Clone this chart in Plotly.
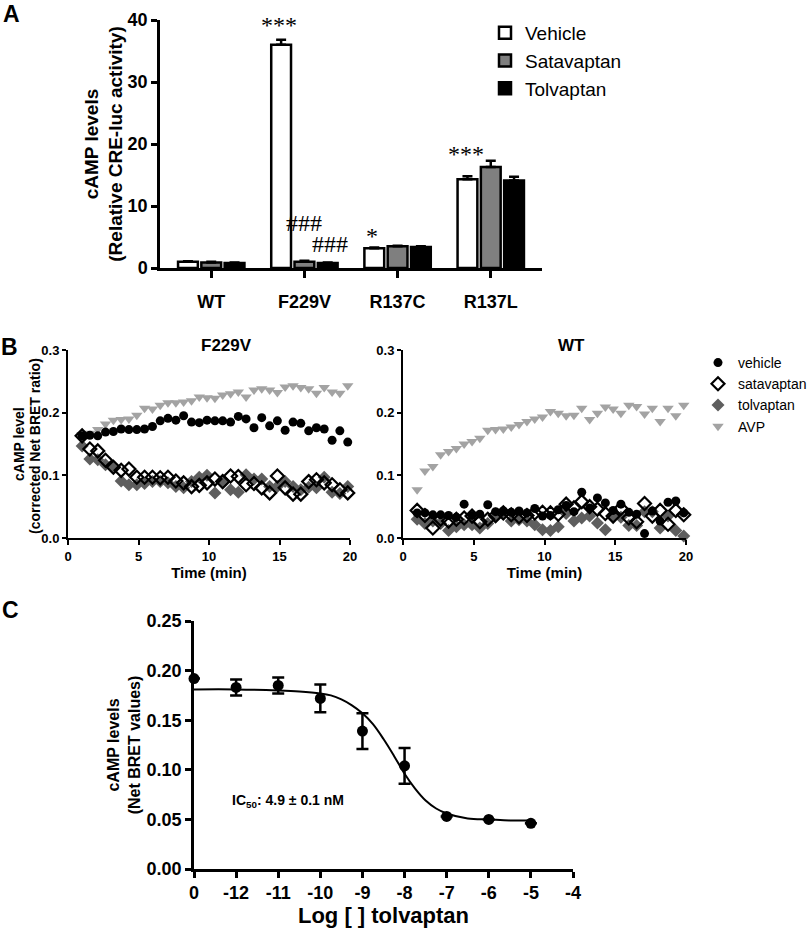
import plotly.graph_objects as go

# ---------------- Panel A data ----------------
mutants = ["WT", "F229V", "R137C", "R137L"]
vehicle_a = [1.0, 36.0, 3.2, 14.3]
vehicle_a_err = [0.1, 0.8, 0.1, 0.5]
satavaptan_a = [0.9, 1.0, 3.5, 16.3]
satavaptan_a_err = [0.1, 0.15, 0.1, 1.0]
tolvaptan_a = [0.8, 0.8, 3.4, 14.1]
tolvaptan_a_err = [0.1, 0.1, 0.1, 0.6]
yticks_a = [0, 10, 20, 30, 40]

# ---------------- Panel B data ----------------
time_min = [1.00, 1.55, 2.11, 2.66, 3.22, 3.77, 4.32, 4.88, 5.43, 5.99, 6.54, 7.09,
            7.65, 8.20, 8.76, 9.31, 9.86, 10.42, 10.97, 11.53, 12.08, 12.63, 13.19,
            13.74, 14.30, 14.85, 15.40, 15.96, 16.51, 17.07, 17.62, 18.17, 18.73,
            19.28, 19.84]

f229v_vehicle = [0.163, 0.164, 0.163, 0.169, 0.170, 0.174, 0.173, 0.173, 0.174, 0.178,
                 0.187, 0.191, 0.188, 0.195, 0.185, 0.184, 0.188, 0.187, 0.187, 0.185,
                 0.194, 0.190, 0.176, 0.192, 0.179, 0.187, 0.172, 0.185, 0.183, 0.171,
                 0.176, 0.174, 0.156, 0.171, 0.153]
f229v_satavaptan = [0.163, 0.142, 0.139, 0.124, 0.113, 0.108, 0.110, 0.097, 0.097, 0.097,
                    0.096, 0.097, 0.091, 0.088, 0.082, 0.084, 0.088, 0.094, 0.090, 0.099,
                    0.098, 0.085, 0.087, 0.080, 0.072, 0.099, 0.080, 0.070, 0.070, 0.090,
                    0.093, 0.088, 0.085, 0.077, 0.072]
f229v_tolvaptan = [0.147, 0.126, 0.125, 0.117, 0.113, 0.091, 0.085, 0.085, 0.087, 0.090,
                   0.090, 0.088, 0.082, 0.080, 0.090, 0.097, 0.100, 0.072, 0.092, 0.077,
                   0.073, 0.101, 0.094, 0.094, 0.082, 0.082, 0.090, 0.082, 0.077, 0.081,
                   0.080, 0.097, 0.073, 0.071, 0.082]
f229v_avp = [0.165, 0.167, 0.173, 0.182, 0.188, 0.189, 0.190, 0.196, 0.207, 0.206,
             0.212, 0.216, 0.216, 0.217, 0.219, 0.225, 0.224, 0.223, 0.228, 0.230,
             0.233, 0.225, 0.236, 0.238, 0.236, 0.232, 0.241, 0.243, 0.240, 0.238,
             0.231, 0.240, 0.233, 0.231, 0.243]

wt_vehicle = [0.040, 0.040, 0.037, 0.037, 0.036, 0.033, 0.054, 0.036, 0.038, 0.053,
              0.042, 0.043, 0.041, 0.043, 0.040, 0.047, 0.035, 0.036, 0.045, 0.052,
              0.042, 0.073, 0.048, 0.064, 0.056, 0.044, 0.054, 0.041, 0.038, 0.007,
              0.043, 0.027, 0.057, 0.059, 0.040]
wt_satavaptan = [0.044, 0.036, 0.016, 0.030, 0.027, 0.030, 0.032, 0.035, 0.026, 0.030,
                 0.036, 0.040, 0.037, 0.034, 0.036, 0.040, 0.041, 0.040, 0.038, 0.054,
                 0.048, 0.058, 0.050, 0.046, 0.039, 0.035, 0.047, 0.032, 0.026, 0.055,
                 0.035, 0.044, 0.022, 0.044, 0.037]
wt_tolvaptan = [0.030, 0.023, 0.027, 0.023, 0.012, 0.018, 0.021, 0.021, 0.016, 0.023,
                0.033, 0.039, 0.027, 0.029, 0.027, 0.021, 0.013, 0.012, 0.018, 0.039,
                0.027, 0.032, 0.035, 0.024, 0.013, 0.035, 0.033, 0.020, 0.020, 0.042,
                0.042, 0.016, 0.035, 0.012, 0.003]
wt_avp = [0.077, 0.107, 0.114, 0.133, 0.138, 0.143, 0.150, 0.154, 0.159, 0.172,
          0.173, 0.174, 0.177, 0.181, 0.186, 0.190, 0.193, 0.202, 0.199, 0.195,
          0.196, 0.207, 0.189, 0.199, 0.209, 0.206, 0.199, 0.212, 0.210, 0.198,
          0.207, 0.186, 0.207, 0.195, 0.212]
xticks_b = [0, 5, 10, 15, 20]
yticks_b = [0.0, 0.1, 0.2, 0.3]

# ---------------- Panel C data ----------------
log_conc = [-13, -12, -11, -10, -9, -8, -7, -6, -5]
camp_c = [0.192, 0.183, 0.185, 0.172, 0.139, 0.104, 0.053, 0.050, 0.046]
camp_c_err = [0.0, 0.008, 0.008, 0.014, 0.018, 0.018, 0.0, 0.0, 0.0]
fit_x = [-13, -12, -11, -10.5, -10, -9.75, -9.5, -9.25, -9, -8.75, -8.5, -8.25, -8,
         -7.75, -7.5, -7.25, -7, -6.5, -6, -5.5, -5]
fit_y = [0.181, 0.181, 0.180, 0.179, 0.177, 0.175, 0.171, 0.165, 0.157, 0.146, 0.131,
         0.114, 0.096, 0.081, 0.069, 0.061, 0.056, 0.051, 0.050, 0.049, 0.049]
xtickvals_c = [-13, -12, -11, -10, -9, -8, -7, -6, -5, -4]
xticktext_c = ["0", "-12", "-11", "-10", "-9", "-8", "-7", "-6", "-5", "-4"]
yticks_c = [0.00, 0.05, 0.10, 0.15, 0.20, 0.25]

# ---------------- styling ----------------
FA = "Liberation Sans, Arial, sans-serif"
FN = "Liberation Sans Narrow, Arial Narrow, Liberation Sans, Arial, sans-serif"
FS = "Liberation Serif, Times New Roman, serif"
W, H = 810, 928


def px(xp):
    return xp / W


def py(yp):
    return 1 - yp / H


fig = go.Figure()

# ---- Panel A bars ----
bar_specs = [("Vehicle", vehicle_a, vehicle_a_err, "white"),
             ("Satavaptan", satavaptan_a, satavaptan_a_err, "#7f7f7f"),
             ("Tolvaptan", tolvaptan_a, tolvaptan_a_err, "black")]
for name, vals, errs, col in bar_specs:
    fig.add_trace(go.Bar(
        x=mutants, y=vals, name=name, legend="legend", legendgroup=name,
        marker=dict(color=col, line=dict(color="black", width=2.5)),
        error_y=dict(type="data", array=errs, arrayminus=[0] * len(errs),
                     symmetric=False, color="black", thickness=2.5, width=5),
        xaxis="x", yaxis="y"))

# ---- Panel B scatter ----
b_specs = [
    ("vehicle", dict(symbol="circle", size=9, color="black", line=dict(width=0))),
    ("satavaptan", dict(symbol="diamond-open", size=10, color="black", line=dict(width=2.2))),
    ("tolvaptan", dict(symbol="diamond", size=10, color="#5e5e5e", line=dict(width=0))),
    ("AVP", dict(symbol="triangle-down", size=10, color="#a3a3a3", line=dict(width=0))),
]
left_series = [f229v_vehicle, f229v_satavaptan, f229v_tolvaptan, f229v_avp]
right_series = [wt_vehicle, wt_satavaptan, wt_tolvaptan, wt_avp]
order = [3, 2, 1, 0]
for i in order:
    name, mk = b_specs[i]
    fig.add_trace(go.Scatter(x=time_min, y=left_series[i], mode="markers", marker=mk,
                             name=name, showlegend=False, cliponaxis=False,
                             xaxis="x2", yaxis="y2"))
for i in order:
    name, mk = b_specs[i]
    fig.add_trace(go.Scatter(x=time_min, y=right_series[i], mode="markers", marker=mk,
                             name=name, legend="legend2", legendrank=i + 1,
                             legendgroup="b" + name, cliponaxis=False,
                             xaxis="x3", yaxis="y3"))

# ---- Panel C ----
fig.add_trace(go.Scatter(x=fit_x, y=fit_y, mode="lines",
                         line=dict(color="black", width=2, shape="spline", smoothing=1),
                         showlegend=False, xaxis="x4", yaxis="y4"))
fig.add_trace(go.Scatter(x=log_conc, y=camp_c, mode="markers",
                         marker=dict(symbol="circle", size=11, color="black"),
                         error_y=dict(type="data", array=camp_c_err, color="black", thickness=2.5, width=6),
                         showlegend=False, cliponaxis=False, xaxis="x4", yaxis="y4"))

axis_common = dict(showgrid=False, zeroline=False, showline=True, linecolor="black",
                   ticks="outside", tickcolor="black", automargin=False)

fig.update_layout(
    template="none",
    width=W, height=H, margin=dict(l=0, r=0, t=0, b=0, autoexpand=False), autosize=False,
    paper_bgcolor="white", plot_bgcolor="white",
    barmode="group", bargap=0.25, bargroupgap=0.15,
    font=dict(family=FA, color="black"),
    xaxis=dict(domain=[px(160), px(542)], anchor="y", type="category",
               range=[-0.55, 3.55], linewidth=2.5, ticklen=7, tickwidth=2.5,
               tickfont=dict(family=FA, size=18, weight="bold"), ticklabelstandoff=9,
               **axis_common),
    yaxis=dict(domain=[py(268), py(20)], anchor="x", range=[0, 40], tickvals=yticks_a,
               linewidth=2.5, ticklen=6, tickwidth=2.5,
               tickfont=dict(family=FA, size=18, weight="bold"),
               title=dict(text="cAMP levels<br>(Relative CRE-luc activity)",
                          font=dict(family=FA, size=19, weight="bold"), standoff=0),
               **axis_common),
    xaxis2=dict(domain=[px(68), px(350)], anchor="y2", range=[0, 20], tickvals=xticks_b,
                linewidth=2, ticklen=5, tickwidth=2,
                tickfont=dict(family=FN, size=13, weight="bold"),
                title=dict(text="Time (min)", font=dict(family=FN, size=15, weight="bold"), standoff=4),
                **axis_common),
    yaxis2=dict(domain=[py(538), py(350)], anchor="x2", range=[0, 0.3], tickvals=yticks_b,
                tickformat=".1f", linewidth=2, ticklen=4, tickwidth=2,
                tickfont=dict(family=FN, size=13, weight="bold"),
                **axis_common),
    xaxis3=dict(domain=[px(403), px(686)], anchor="y3", range=[0, 20], tickvals=xticks_b,
                linewidth=2, ticklen=5, tickwidth=2,
                tickfont=dict(family=FN, size=13, weight="bold"),
                title=dict(text="Time (min)", font=dict(family=FN, size=15, weight="bold"), standoff=4),
                **axis_common),
    yaxis3=dict(domain=[py(538), py(350)], anchor="x3", range=[0, 0.3], tickvals=yticks_b,
                tickformat=".1f", linewidth=2, ticklen=4, tickwidth=2,
                tickfont=dict(family=FN, size=13, weight="bold"),
                **axis_common),
    xaxis4=dict(domain=[px(194), px(573)], anchor="y4", range=[-13, -4],
                tickvals=xtickvals_c, ticktext=xticktext_c,
                linewidth=2.5, ticklen=6, tickwidth=2.5,
                tickfont=dict(family=FN, size=18, weight="bold"),
                title=dict(text="Log [ ] tolvaptan", font=dict(family=FN, size=22, weight="bold"), standoff=6),
                **axis_common),
    yaxis4=dict(domain=[py(869), py(621)], anchor="x4", range=[0, 0.25], tickvals=yticks_c,
                tickformat=".2f", linewidth=2.5, ticklen=6, tickwidth=2.5,
                tickfont=dict(family=FN, size=18, weight="bold"),
                title=dict(text="cAMP levels<br>(Net BRET values)",
                           font=dict(family=FA, size=16, weight="bold"), standoff=3),
                **axis_common),
    legend=dict(x=px(485), y=py(14), xanchor="left", yanchor="top",
                font=dict(family=FA, size=19), bgcolor="rgba(0,0,0,0)",
                traceorder="grouped", tracegroupgap=0),
    legend2=dict(x=px(698), y=py(347), xanchor="left", yanchor="top",
                 font=dict(family=FA, size=14), bgcolor="rgba(0,0,0,0)",
                 traceorder="grouped", tracegroupgap=0),
)

# significance marks (placed relative to bar tops)
cat_offset = {"Vehicle": -0.27, "Satavaptan": 0.0, "Tolvaptan": 0.27}
sig_marks = [("***", "Vehicle", 1, vehicle_a, vehicle_a_err, -0.1),
             ("###", "Satavaptan", 1, satavaptan_a, satavaptan_a_err, 3.7),
             ("###", "Tolvaptan", 1, tolvaptan_a, tolvaptan_a_err, 0.5),
             ("*", "Vehicle", 2, vehicle_a, vehicle_a_err, -0.5),
             ("***", "Vehicle", 3, vehicle_a, vehicle_a_err, 1.2)]
for txt, grp, ci, vals, errs, gap in sig_marks:
    fig.add_annotation(x=ci + cat_offset[grp], y=vals[ci] + errs[ci] + gap, xref="x", yref="y",
                       text=txt, showarrow=False, yanchor="bottom", xanchor="center",
                       font=dict(family=FS, size=24, color="#000000"))

# panel B y-axis title drawn as rotated text lines
for txt, xx, yy, sz in [("cAMP level", 19, 444, 14),
                        ("(corrected Net BRET ratio)", 35, 446, 14)]:
    fig.add_annotation(x=px(xx), y=py(yy), xref="paper", yref="paper", text=txt,
                       textangle=-90, showarrow=False, xanchor="center", yanchor="middle",
                       font=dict(family=FA, size=sz, weight="bold"))

# panel titles & labels
fig.add_annotation(x=px(226), y=py(346), xref="paper", yref="paper", text="F229V",
                   showarrow=False, xanchor="center", font=dict(family=FN, size=17, weight="bold"))
fig.add_annotation(x=px(571), y=py(346), xref="paper", yref="paper", text="WT",
                   showarrow=False, xanchor="center", font=dict(family=FN, size=17, weight="bold"))
fig.add_annotation(x=-12.15, y=0.069, xref="x4", yref="y4",
                   text="IC<sub>50</sub>: 4.9 ± 0.1 nM", showarrow=False, xanchor="left",
                   font=dict(family=FN, size=14, weight="bold"))
for lab, xx, yy in [("A", 11, 14), ("B", 9, 347), ("C", 10, 610)]:
    fig.add_annotation(x=px(xx), y=py(yy), xref="paper", yref="paper", text=lab,
                       showarrow=False, xanchor="center", yanchor="middle",
                       font=dict(family=FA, size=23, weight="bold"))

post = ("document.documentElement.style.margin='0';"
        "document.body.style.margin='0';"
        "document.documentElement.style.overflow='hidden';"
        "document.body.style.overflow='hidden';"
        "var d=document.getElementById('{plot_id}');"
        "d.style.position='absolute';d.style.left='0px';d.style.top='0px';")
fig.write_html("out.html", config={"displayModeBar": False}, post_script=post)
